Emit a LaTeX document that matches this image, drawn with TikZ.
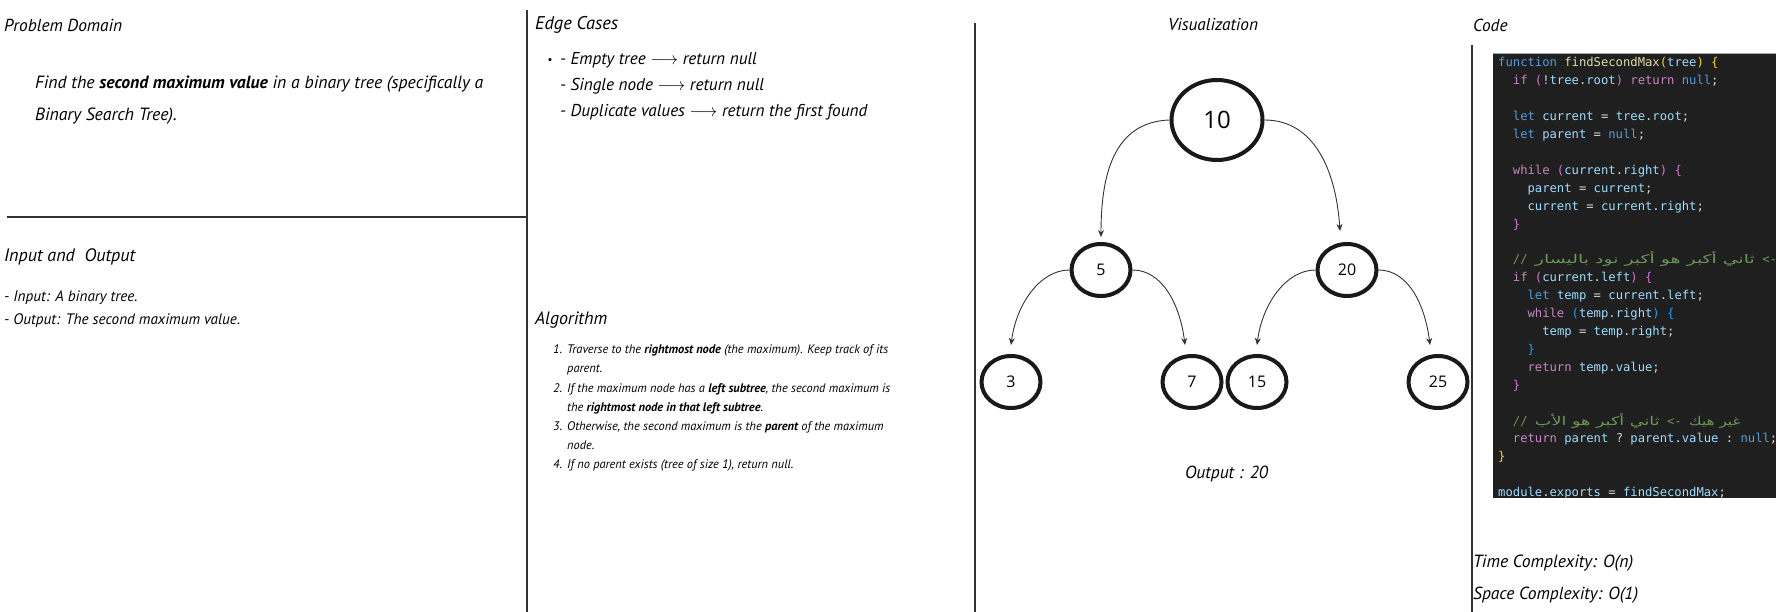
\documentclass[tikz,border=0pt]{standalone}
\usepackage{fontspec}
\usepackage{graphicx}
\setmainfont{PT Sans}
\newfontfamily\treefont{Open Sans}
\setmonofont{DejaVu Sans Mono}
\newfontfamily\arabicfont[Script=Arabic]{DejaVu Sans}
\TeXXeTstate=1
\usetikzlibrary{arrows.meta,shapes.geometric}
\definecolor{cbg}{HTML}{1F1F1F}
\definecolor{ckw}{HTML}{C586C0}
\definecolor{cbl}{HTML}{569CD6}
\definecolor{cvr}{HTML}{9CDCFE}
\definecolor{cfn}{HTML}{DCDCAA}
\definecolor{cgd}{HTML}{FFD700}
\definecolor{corc}{HTML}{DA70D6}
\definecolor{cbb}{HTML}{179FFF}
\definecolor{ccm}{HTML}{6A9955}
\definecolor{ctx}{HTML}{D4D4D4}
\definecolor{cline}{HTML}{333333}
\newcommand\cKw[1]{\textcolor{ckw}{#1}}
\newcommand\cBl[1]{\textcolor{cbl}{#1}}
\newcommand\cVr[1]{\textcolor{cvr}{#1}}
\newcommand\cFn[1]{\textcolor{cfn}{#1}}
\newcommand\cGd[1]{\textcolor{cgd}{#1}}
\newcommand\cOc[1]{\textcolor{corc}{#1}}
\newcommand\cBb[1]{\textcolor{cbb}{#1}}
\newcommand\cCm[1]{\textcolor{ccm}{#1}}
\newlength\fitlen
\newcommand\fitsize[3]{\settowidth\fitlen{\fontsize{10}{12}\selectfont #3}\pgfmathsetmacro#1{10*#2/\fitlen}}
\newcommand\arR[2]{\resizebox{#1}{\height}{\arabicfont\fontsize{12}{14}\selectfont #2}}
\begin{document}
\fitsize\szPDh{118}{\itshape Problem Domain}%
\fitsize\szIOh{131}{\itshape Input and\ \ Output}%
\fitsize\szECh{83}{\itshape Edge Cases}%
\fitsize\szALh{72}{\itshape Algorithm}%
\fitsize\szVIh{90}{\itshape Visualization}%
\fitsize\szPD{448}{\itshape Find the \textbf{second maximum value} in a binary tree (specifically a}%
\fitsize\szIO{236}{\itshape - Output: The second maximum value.}%
\fitsize\szEC{307}{\itshape - Duplicate values $\longrightarrow$ return the first found}%
\fitsize\szAL{321}{\itshape Traverse to the \textbf{rightmost node} (the maximum). Keep track of its}%
\fitsize\szOut{83}{\itshape Output : 20}%
\fitsize\szTC{160}{\itshape Time Complexity: O(n)}%
\fitsize\szSC{165}{\itshape Space Complexity: O(1)}%
\begin{tikzpicture}[x=1pt,y=-1pt,
  divider/.style={draw=cline, line width=1.3pt},
  hd/.style={inner sep=0pt, anchor=west},
  body/.style={inner sep=0pt, anchor=west, align=left},
  tnode/.style={draw=black!90, ellipse, line width=4pt, minimum width=59pt, minimum height=52pt, inner sep=0pt, font=\treefont\fontsize{16}{18}\selectfont},
  edge/.style={draw=black!80, line width=0.9pt, -{Stealth[length=7pt,width=6pt]}},
  code/.style={inner sep=0pt, anchor=base west, font=\ttfamily\fontsize{12.2}{14}\selectfont, text=ctx}]
\useasboundingbox (0,0) rectangle (1785,612);
\fill[white] (0,0) rectangle (1785,612);

% dividers
\draw[divider] (527,10) -- (527,612);
\draw[divider] (7,217) -- (527,217);
\draw[divider] (975,23) -- (975,612);
\draw[divider] (1472,45) -- (1472,612);

% Problem domain
\node[hd, font=\itshape\fontsize{\szPDh}{20}\selectfont] (pdh) at (4,25) {Problem Domain};
\node[body, font=\itshape\fontsize{\szPD}{32}\selectfont] (pdt) at (35,100)
  {Find the \textbf{second maximum value} in a binary tree (specifically a\\Binary Search Tree).};

% Input and output
\node[hd, font=\itshape\fontsize{\szIOh}{20}\selectfont] (ioh) at (4,257) {Input and\ \ Output};
\node[body, font=\itshape\fontsize{\szIO}{23}\selectfont] (iot) at (4,309)
  {- Input: A binary tree.\\- Output: The second maximum value.};

% Edge cases
\node[hd, font=\itshape\fontsize{\szECh}{20}\selectfont] (ech) at (535,25) {Edge Cases};
\node[inner sep=0pt, font=\fontsize{11}{14}\selectfont] (bul) at (550,61) {\textbullet};
\node[body, font=\itshape\fontsize{\szEC}{26}\selectfont] (ect) at (560,86)
  {- Empty tree $\longrightarrow$ return null\\- Single node $\longrightarrow$ return null\\- Duplicate values $\longrightarrow$ return the first found};

% Algorithm
\node[hd, font=\itshape\fontsize{\szALh}{20}\selectfont] (alh) at (535,320) {Algorithm};
\node[body, font=\itshape\fontsize{\szAL}{19.17}\selectfont] (alt) at (553,407.5)
  {\begin{tabular}{@{}p{14pt}@{}l@{}}
   1.&Traverse to the \textbf{rightmost node} (the maximum). Keep track of its\\
     &parent.\\
   2.&If the maximum node has a \textbf{left subtree}, the second maximum is\\
     &the \textbf{rightmost node in that left subtree}.\\
   3.&Otherwise, the second maximum is the \textbf{parent} of the maximum\\
     &node.\\
   4.&If no parent exists (tree of size 1), return null.
   \end{tabular}};

% Visualization
\node[hd, anchor=center, font=\itshape\fontsize{\szVIh}{20}\selectfont] (vih) at (1213,25) {Visualization};
\node[tnode, minimum width=91pt, minimum height=80pt, font=\treefont\fontsize{24}{26}\selectfont] (n10) at (1217,120) {10};
\node[tnode] (n5) at (1101,270) {5};
\node[tnode] (n20) at (1347,270) {20};
\node[tnode] (n3) at (1011,382) {3};
\node[tnode] (n7) at (1192,382) {7};
\node[tnode] (n15) at (1257,382) {15};
\node[tnode] (n25) at (1438,382) {25};
\draw[edge] (n10.west) .. controls +(-57,2) and +(0,-60) .. ([yshift=5pt]n5.north);
\draw[edge] (n10.east) .. controls +(50,0) and +(-4,-60) .. ([xshift=-7pt,yshift=11pt]n20.north);
\draw[edge] (n5.west) .. controls +(-30,0) and +(5,-40) .. ([yshift=9pt]n3.north);
\draw[edge] (n5.east) .. controls +(30,0) and +(-5,-40) .. ([xshift=-7pt,yshift=9pt]n7.north);
\draw[edge] (n20.west) .. controls +(-30,0) and +(5,-40) .. ([yshift=9pt]n15.north);
\draw[edge] (n20.east) .. controls +(30,0) and +(-5,-40) .. ([xshift=-8pt,yshift=9pt]n25.north);
\node[hd, anchor=center, font=\itshape\fontsize{\szOut}{20}\selectfont] (out) at (1226.5,474) {Output : 20};

% Code
\node[hd, font=\itshape\fontsize{\szPDh}{20}\selectfont] (coh) at (1473,25) {Code};
\fill[cbg] (1493,53) rectangle (1776,498);
\draw[gray!70, line width=0.8pt] (1493,53) -- (1776,53);
\begin{scope}
\clip (1493,53) rectangle (1776,498);
\def\lh{17.9}
\node[code] (c1) at (1498,67) {\cBl{function} \cFn{findSecondMax}\cGd{(}\cVr{tree}\cGd{)} \cGd{\{}};
\node[code] (c2) at (1512.7,{67+1*\lh}) {\cKw{if} \cOc{(}!\cVr{tree}.\cVr{root}\cOc{)} \cKw{return} \cBl{null};};
\node[code] (c4) at (1512.7,{67+3*\lh}) {\cBl{let} \cVr{current} = \cVr{tree}.\cVr{root};};
\node[code] (c5) at (1512.7,{67+4*\lh}) {\cBl{let} \cVr{parent} = \cBl{null};};
\node[code] (c7) at (1512.7,{67+6*\lh}) {\cKw{while} \cOc{(}\cVr{current}.\cVr{right}\cOc{)} \cOc{\{}};
\node[code] (c8) at (1527.4,{67+7*\lh}) {\cVr{parent} = \cVr{current};};
\node[code] (c9) at (1527.4,{67+8*\lh}) {\cVr{current} = \cVr{current}.\cVr{right};};
\node[code] (c10) at (1512.7,{67+9*\lh}) {\cOc{\}}};
\node[code] (c12) at (1512.7,{67+11*\lh}) {\cCm{// \arR{220pt}{\beginR ثاني أكبر هو أكبر نود باليسار\endR} <-}};
\node[code] (c13) at (1512.7,{67+12*\lh}) {\cKw{if} \cOc{(}\cVr{current}.\cVr{left}\cOc{)} \cOc{\{}};
\node[code] (c14) at (1527.4,{67+13*\lh}) {\cBl{let} \cVr{temp} = \cVr{current}.\cVr{left};};
\node[code] (c15) at (1527.4,{67+14*\lh}) {\cKw{while} \cBb{(}\cVr{temp}.\cVr{right}\cBb{)} \cBb{\{}};
\node[code] (c16) at (1542.1,{67+15*\lh}) {\cVr{temp} = \cVr{temp}.\cVr{right};};
\node[code] (c17) at (1527.4,{67+16*\lh}) {\cBb{\}}};
\node[code] (c18) at (1527.4,{67+17*\lh}) {\cKw{return} \cVr{temp}.\cVr{value};};
\node[code] (c19) at (1512.7,{67+18*\lh}) {\cOc{\}}};
\node[code] (c21) at (1512.7,{67+20*\lh}) {\cCm{// \arR{124.8pt}{\beginR ثاني أكبر هو الأب\endR} <- \arR{51.4pt}{\beginR غير هيك\endR}}};
\node[code] (c22) at (1512.7,{67+21*\lh}) {\cKw{return} \cVr{parent} ? \cVr{parent}.\cVr{value} : \cBl{null};};
\node[code] (c23) at (1498,{67+22*\lh}) {\cGd{\}}};
\node[code] (c25) at (1498,{67+24*\lh}) {\cVr{module}.\cVr{exports} = \cVr{findSecondMax};};
\end{scope}

% complexity
\node[hd, font=\itshape\fontsize{\szTC}{20}\selectfont] (tc) at (1473,563) {Time Complexity: O(n)};
\node[hd, font=\itshape\fontsize{\szSC}{20}\selectfont] (sc) at (1473,595) {Space Complexity: O(1)};
\end{tikzpicture}
\end{document}
